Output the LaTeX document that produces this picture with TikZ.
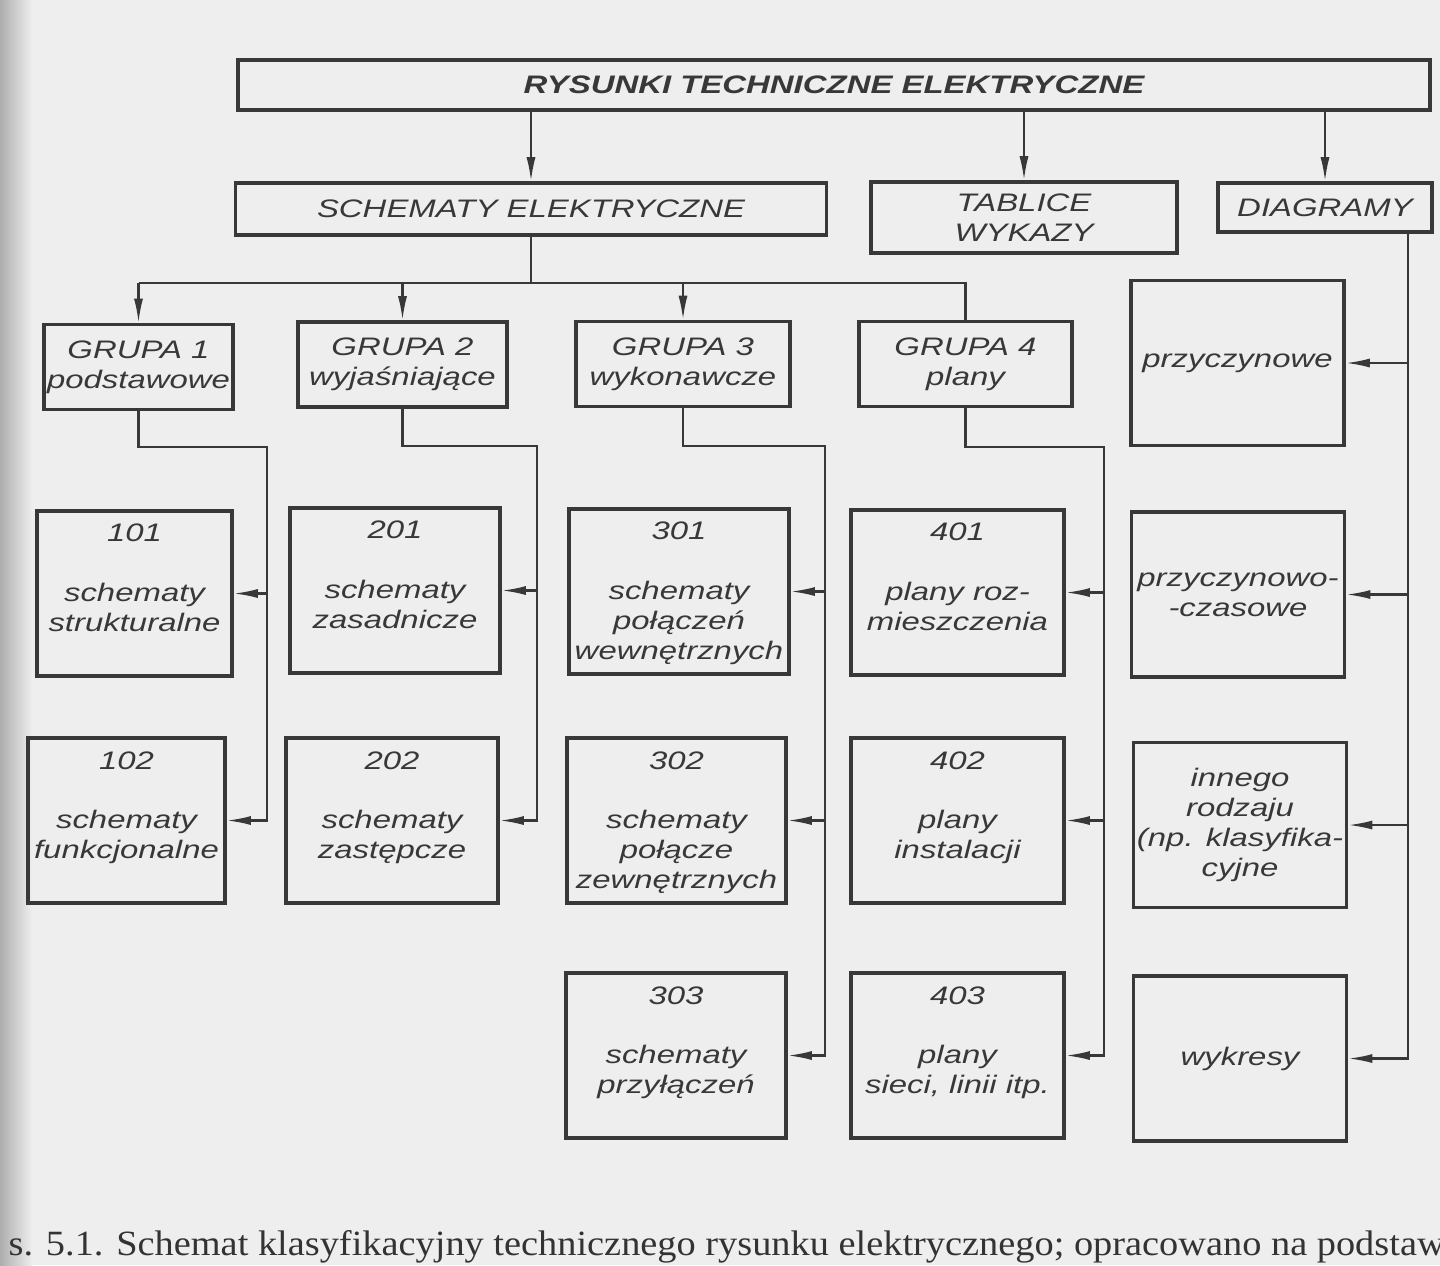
\documentclass[tikz,border=0pt]{standalone}
\usepackage{fontspec}
\setmainfont{Liberation Sans}[FakeStretch=1.3, UprightFont=*, ItalicFont=* Italic, BoldFont=* Bold, BoldItalicFont=* Bold Italic]
\newfontfamily\capfont{Liberation Serif}[FakeStretch=1.08]
\usepackage{tikz}
\usetikzlibrary{arrows.meta, calc}
\definecolor{paper}{gray}{0.935}
\definecolor{ink}{gray}{0.22}
\newcommand{\boxfont}{\fontsize{7.2}{8.5}\selectfont\itshape}
\newcommand{\cell}[1]{\begin{tabular}[t]{@{}c@{}}#1\end{tabular}}
\tikzset{
    topbox/.style={draw=ink, line width=1.1pt, inner sep=0pt, minimum width=119.2mm, minimum height=5mm, font=\boxfont\bfseries},
    headbox/.style={draw=ink, line width=1pt, align=center, inner sep=0pt},
    grpbox/.style={draw=ink, line width=1pt, align=center, inner sep=0pt, minimum height=8.5mm},
    numbox/.style={draw=ink, line width=1pt, inner sep=0pt, text height=3.1mm, text depth=13.4mm, minimum width=#1},
    diabox/.style={draw=ink, line width=1pt, align=center, inner sep=0pt, minimum width=21.3mm, minimum height=16.5mm},
    conn/.style={draw=ink, line width=0.6pt},
}
\begin{document}
\begin{tikzpicture}[
    x=0.01cm, y=-0.01cm,
    >={Latex[length=2.4mm,width=0.9mm]},
    every node/.style={font=\boxfont, text=ink},
]
\useasboundingbox (0,0) rectangle (1440,1265);
\clip (0,0) rectangle (1440,1265);
\fill[paper] (0,0) rectangle (1440,1265);
\shade[left color=black!32, right color=paper] (0,0) rectangle (32,1265);

% top level
\node[topbox] (title) at (834,85) {RYSUNKI TECHNICZNE ELEKTRYCZNE};
\node[headbox, minimum width=59.1mm, minimum height=5.2mm] (se) at (531,209) {SCHEMATY ELEKTRYCZNE};
\node[headbox, minimum width=30.6mm, minimum height=7.1mm] (tw) at (1024,217.5) {TABLICE\\WYKAZY};
\node[headbox, minimum width=21.4mm, minimum height=4.9mm] (dg) at (1325,207.5) {DIAGRAMY};

% groups
\node[grpbox, minimum width=18.9mm] (g1) at (138.5,367) {GRUPA 1\\podstawowe};
\node[grpbox, minimum width=20.9mm] (g2) at (402.5,364.5) {GRUPA 2\\wyjaśniające};
\node[grpbox, minimum width=21.4mm] (g3) at (683,364) {GRUPA 3\\wykonawcze};
\node[grpbox, minimum width=21.3mm] (g4) at (965.5,364) {GRUPA 4\\plany};

% kinds of drawings
\node[numbox=19.5mm] (b101) at (134.5,593.5) {\cell{101\\[8.5pt]schematy\\strukturalne}};
\node[numbox=19.7mm] (b102) at (126.5,820.5) {\cell{102\\[8.5pt]schematy\\funkcjonalne}};
\node[numbox=21mm] (b201) at (395,590.5) {\cell{201\\[8.5pt]schematy\\zasadnicze}};
\node[numbox=21.2mm] (b202) at (392,820.5) {\cell{202\\[8.5pt]schematy\\zastępcze}};
\node[numbox=22mm] (b301) at (679,591.5) {\cell{301\\[8.5pt]schematy\\połączeń\\wewnętrznych}};
\node[numbox=21.9mm] (b302) at (676.5,820.5) {\cell{302\\[8.5pt]schematy\\połącze\\zewnętrznych}};
\node[numbox=22mm] (b303) at (676,1055.5) {\cell{303\\[8.5pt]schematy\\przyłączeń}};
\node[numbox=21.3mm] (b401) at (957.5,592.5) {\cell{401\\[8.5pt]plany roz-\\mieszczenia}};
\node[numbox=21.3mm] (b402) at (957.5,820.5) {\cell{402\\[8.5pt]plany\\instalacji}};
\node[numbox=21.3mm] (b403) at (957.5,1055.5) {\cell{403\\[8.5pt]plany\\sieci, linii itp.}};

\node[diabox] (d1) at (1237.5,363) {przyczynowe};
\node[diabox] (d2) at (1238,594.5) {przyczynowo-\\-czasowe};
\node[diabox] (d3) at (1240,825) {innego\\rodzaju\\(np. klasyfika-\\cyjne};
\node[diabox] (d4) at (1240,1058.5) {wykresy};

% connectors
\foreach \b in {se,tw,dg}
    \draw[conn,->] (title.south -| \b.north) -- (\b.north);

\coordinate (ky) at (0,283);
\draw[conn] (se.south) -- (se.south |- ky);
\draw[conn] (g1.north |- ky) -- (g4.north |- ky) -- (g4.north);
\foreach \g in {g1,g2,g3}
    \draw[conn,->] (\g.north |- ky) -- (\g.north);

\coordinate (k1) at (267,447);
\coordinate (k2) at (537,446);
\coordinate (k3) at (825,446);
\coordinate (k4) at (1104,447);
\draw[conn,->] (g1.south) |- (k1) |- (b102.east);
\draw[conn,->] (k1 |- b101.east) -- (b101.east);
\draw[conn,->] (g2.south) |- (k2) |- (b202.east);
\draw[conn,->] (k2 |- b201.east) -- (b201.east);
\draw[conn,->] (g3.south) |- (k3) |- (b303.east);
\foreach \b in {b301,b302}
    \draw[conn,->] (k3 |- \b.east) -- (\b.east);
\draw[conn,->] (g4.south) |- (k4) |- (b403.east);
\foreach \b in {b401,b402}
    \draw[conn,->] (k4 |- \b.east) -- (\b.east);

\coordinate (kd) at (1408,0);
\draw[conn,->] (dg.south -| kd) |- (d4.east);
\foreach \d in {d1,d2,d3}
    \draw[conn,->] (kd |- \d.east) -- (\d.east);

% caption
\node[font=\capfont\fontsize{10.1}{12}\selectfont, text=black!80, anchor=base west, inner sep=0pt] (cap) at (8,1255) {s. 5.1. Schemat klasyfikacyjny technicznego rysunku elektrycznego; opracowano na podstaw};
\end{tikzpicture}
\end{document}
